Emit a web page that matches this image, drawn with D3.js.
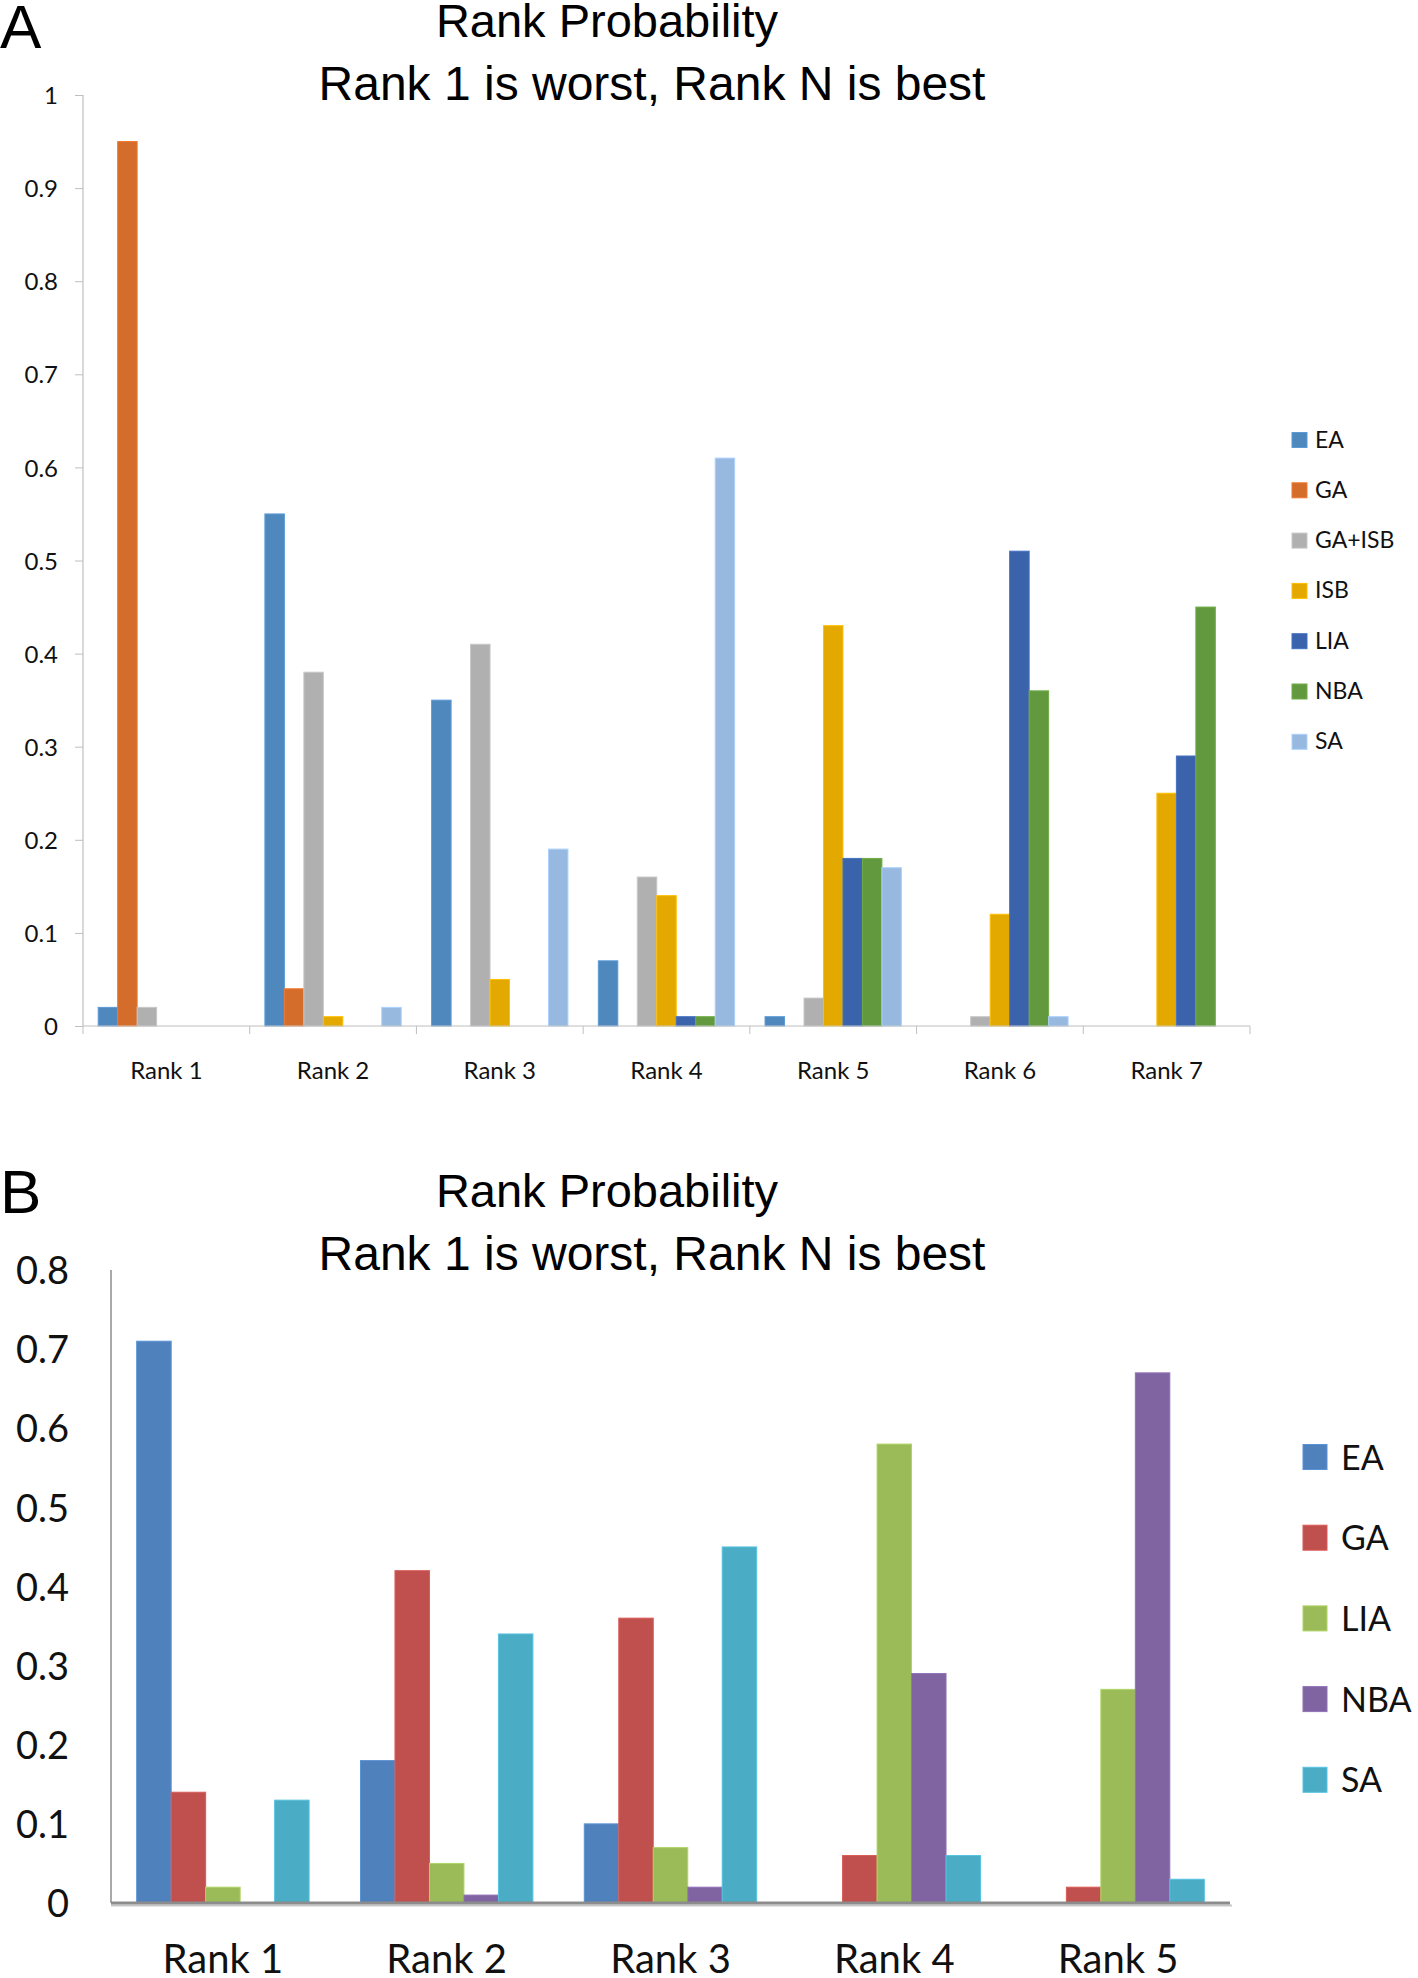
<!DOCTYPE html>
<html>
<head>
<meta charset="utf-8">
<script src="https://cdn.jsdelivr.net/npm/d3@7"></script>
<style>
  html, body { margin: 0; padding: 0; background: #fff; }
  svg { display: block; }
</style>
</head>
<body>
<script>
// ---------- DATA: chart A ----------
const ranksA = ["Rank 1", "Rank 2", "Rank 3", "Rank 4", "Rank 5", "Rank 6", "Rank 7"];
const seriesA = ["EA", "GA", "GA+ISB", "ISB", "LIA", "NBA", "SA"];
const colorsA = ["#4f88bd", "#d46c2b", "#b0b0b0", "#e3a900", "#3b63ac", "#63993e", "#98b9df"];
const valuesA_EA    = [0.02, 0.55, 0.35, 0.07, 0.01, 0.00, 0.00];
const valuesA_GA    = [0.95, 0.04, 0.00, 0.00, 0.00, 0.00, 0.00];
const valuesA_GAISB = [0.02, 0.38, 0.41, 0.16, 0.03, 0.01, 0.00];
const valuesA_ISB   = [0.00, 0.01, 0.05, 0.14, 0.43, 0.12, 0.25];
const valuesA_LIA   = [0.00, 0.00, 0.00, 0.01, 0.18, 0.51, 0.29];
const valuesA_NBA   = [0.00, 0.00, 0.00, 0.01, 0.18, 0.36, 0.45];
const valuesA_SA    = [0.00, 0.02, 0.19, 0.61, 0.17, 0.01, 0.00];
const ticksA = [0, 0.1, 0.2, 0.3, 0.4, 0.5, 0.6, 0.7, 0.8, 0.9, 1];
const tickLabelsA = ["0", "0.1", "0.2", "0.3", "0.4", "0.5", "0.6", "0.7", "0.8", "0.9", "1"];

// ---------- DATA: chart B ----------
const ranksB = ["Rank 1", "Rank 2", "Rank 3", "Rank 4", "Rank 5"];
const seriesB = ["EA", "GA", "LIA", "NBA", "SA"];
const colorsB = ["#4f81bd", "#c0504d", "#9bbb59", "#8064a2", "#4bacc6"];
const valuesB_EA  = [0.71, 0.18, 0.10, 0.00, 0.00];
const valuesB_GA  = [0.14, 0.42, 0.36, 0.06, 0.02];
const valuesB_LIA = [0.02, 0.05, 0.07, 0.58, 0.27];
const valuesB_NBA = [0.00, 0.01, 0.02, 0.29, 0.67];
const valuesB_SA  = [0.13, 0.34, 0.45, 0.06, 0.03];
const ticksB = [0, 0.1, 0.2, 0.3, 0.4, 0.5, 0.6, 0.7, 0.8];
const tickLabelsB = ["0", "0.1", "0.2", "0.3", "0.4", "0.5", "0.6", "0.7", "0.8"];

const titleLine1 = "Rank Probability";
const titleLine2 = "Rank 1 is worst, Rank N is best";

const tableA = [valuesA_EA, valuesA_GA, valuesA_GAISB, valuesA_ISB, valuesA_LIA, valuesA_NBA, valuesA_SA];
const tableB = [valuesB_EA, valuesB_GA, valuesB_LIA, valuesB_NBA, valuesB_SA];

const W = 1418, H = 1978;
const svg = d3.select("body").append("svg").attr("width", W).attr("height", H)
  .style("background", "#fff");

const titleFont = "'Liberation Sans', Arial, sans-serif";
const labelFont = "Lato, 'Open Sans', sans-serif";

function panel(opts) {
  const g = svg.append("g");
  // panel letter
  g.append("text").attr("x", 0).attr("y", opts.letterY)
    .attr("font-family", titleFont).attr("font-size", 62).attr("fill", "#000")
    .text(opts.letter);
  // titles
  g.append("text").attr("x", 607).attr("y", opts.t1Y).attr("text-anchor", "middle")
    .attr("font-family", titleFont).attr("font-size", 47).attr("fill", "#000").text(titleLine1);
  g.append("text").attr("x", 652).attr("y", opts.t2Y).attr("text-anchor", "middle")
    .attr("font-family", titleFont).attr("font-size", 48).attr("fill", "#000").text(titleLine2);

  const y = d3.scaleLinear().domain([0, opts.yMax]).range([opts.y0, opts.yTop]);
  const x0 = d3.scaleBand().domain(opts.ranks).range([opts.xL, opts.xR]).padding(0);
  const x1 = d3.scaleBand().domain(opts.series).range([0, x0.bandwidth()])
    .paddingInner(0).paddingOuter(opts.outerPad);

  // bars
  opts.series.forEach((s, si) => {
    g.append("g").selectAll("rect").data(opts.ranks.map((r, ri) => ({r, v: opts.table[si][ri]})))
      .join("rect")
      .filter(d => d.v > 0)
      .attr("x", d => x0(d.r) + x1(s))
      .attr("y", d => y(d.v))
      .attr("width", x1.bandwidth())
      .attr("height", d => y(0) - y(d.v))
      .attr("fill", opts.colors[si])
      .attr("stroke", d3.color(opts.colors[si]).brighter(0.35))
      .attr("stroke-width", 1);
  });

  // y axis
  const yAxis = d3.axisLeft(y).tickValues(opts.ticks)
    .tickFormat((d, i) => opts.tickLabels[i])
    .tickSize(opts.yTickSize).tickPadding(opts.yTickPad);
  const ya = g.append("g").attr("transform", `translate(${opts.xL},0)`).call(yAxis);
  ya.select(".domain").attr("stroke", opts.axisColor).attr("stroke-width", opts.yAxisW)
    .attr("d", `M0,${opts.yTop}V${opts.y0}`);
  ya.selectAll(".tick line").attr("stroke", opts.axisColor);
  ya.selectAll(".tick text").attr("font-family", labelFont).attr("font-size", opts.yFont)
    .attr("fill", "#111").attr("dy", "0.36em");

  // x axis
  const xAxis = d3.axisBottom(x0).tickSize(0).tickPadding(opts.xTickPad);
  const xa = g.append("g").attr("transform", `translate(0,${opts.y0})`).call(xAxis);
  xa.select(".domain").remove();
  xa.selectAll(".tick text").attr("font-family", labelFont).attr("font-size", opts.xFont)
    .attr("fill", "#111");
  if (opts.xShadow) {
    g.append("line").attr("x1", opts.xL).attr("x2", opts.xR + 2)
      .attr("y1", opts.y0 + 2.5).attr("y2", opts.y0 + 2.5)
      .attr("stroke", "#c8c8c8").attr("stroke-width", 2);
  }
  g.append("line").attr("x1", opts.xL).attr("x2", opts.xR)
    .attr("y1", opts.y0).attr("y2", opts.y0)
    .attr("stroke", opts.axisColor).attr("stroke-width", opts.xAxisW);
  if (opts.boundaryTicks) {
    const bounds = opts.ranks.map(r => x0(r)).concat([x0(opts.ranks[opts.ranks.length - 1]) + x0.bandwidth()]);
    g.append("g").selectAll("line").data(bounds).join("line")
      .attr("x1", d => d).attr("x2", d => d)
      .attr("y1", opts.y0).attr("y2", opts.y0 + 8)
      .attr("stroke", opts.axisColor).attr("stroke-width", 1);
  }

  // legend
  const lg = g.append("g");
  opts.series.forEach((s, i) => {
    const cy = opts.legY0 + i * opts.legStep;
    lg.append("rect").attr("x", opts.legX).attr("y", cy - opts.legH / 2)
      .attr("width", opts.legW).attr("height", opts.legH)
      .attr("fill", opts.colors[i])
      .attr("stroke", d3.color(opts.colors[i]).brighter(0.35)).attr("stroke-width", 1);
    lg.append("text").attr("x", opts.legTX).attr("y", cy + opts.legH / 2)
      .attr("font-family", labelFont).attr("font-size", opts.legFont).attr("fill", "#111")
      .text(s);
  });
}

panel({
  letter: "A", letterY: 48, t1Y: 37, t2Y: 100,
  ranks: ranksA, series: seriesA, colors: colorsA, table: tableA,
  yMax: 1, y0: 1026, yTop: 95, xL: 83, xR: 1250, outerPad: 0.78,
  ticks: ticksA, tickLabels: tickLabelsA,
  yTickSize: 8, yTickPad: 17, yFont: 24, axisColor: "#bfbfbf", yAxisW: 1.2,
  xTickPad: 36, xFont: 24, xAxisW: 1.2, boundaryTicks: true, xShadow: false,
  legX: 1292, legY0: 440, legStep: 50.3, legW: 15, legH: 15, legTX: 1315, legFont: 23
});

panel({
  letter: "B", letterY: 1213, t1Y: 1207, t2Y: 1270,
  ranks: ranksB, series: seriesB, colors: colorsB, table: tableB,
  yMax: 0.8, y0: 1903, yTop: 1270, xL: 111, xR: 1230, outerPad: 0.745,
  ticks: ticksB, tickLabels: tickLabelsB,
  yTickSize: 0, yTickPad: 42, yFont: 38, axisColor: "#8c8c8c", yAxisW: 1.5,
  xTickPad: 42, xFont: 40, xAxisW: 3, boundaryTicks: false, xShadow: true,
  legX: 1303, legY0: 1457, legStep: 80.7, legW: 24, legH: 25, legTX: 1341, legFont: 34
});
</script>
</body>
</html>
